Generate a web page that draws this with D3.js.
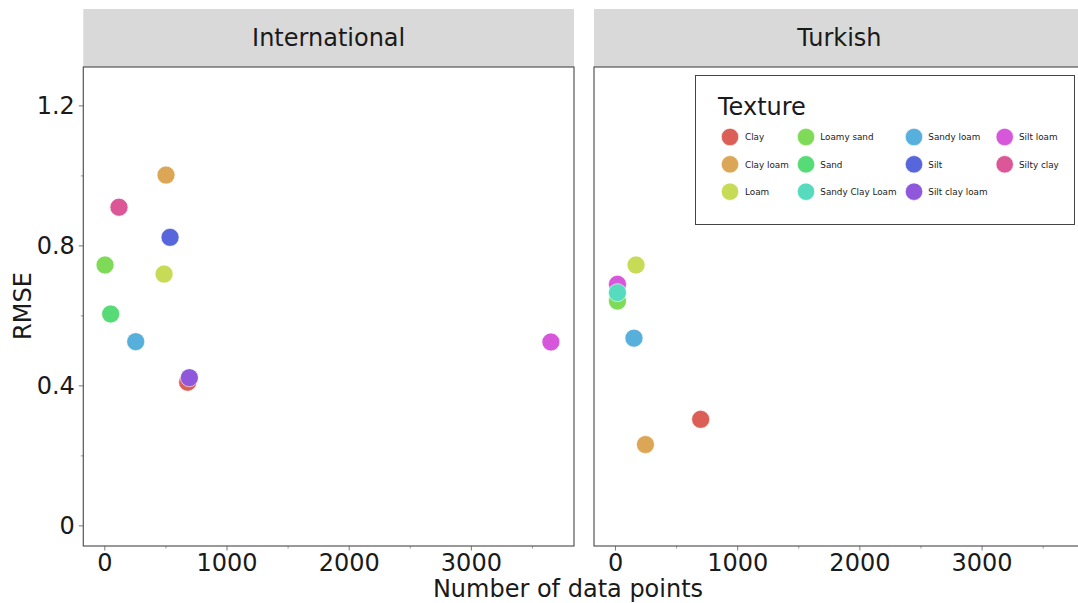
<!DOCTYPE html>
<html>
<head>
<meta charset="utf-8">
<script src="https://cdn.jsdelivr.net/npm/d3@7"></script>
<style>
  html, body { margin: 0; padding: 0; background: #fff; }
  svg { display: block; font-family: "DejaVu Sans", sans-serif; }
</style>
</head>
<body>
<svg id="chart" width="1078" height="603"></svg>
<script>
// ---- data ----
const textures = ["Clay", "Clay loam", "Loam", "Loamy sand", "Sand", "Sandy Clay Loam",
                  "Sandy loam", "Silt", "Silt clay loam", "Silt loam", "Silty clay"];
const textureColors = ["#db5f57", "#dba757", "#c8db57", "#7fdb57", "#57db77", "#57dbbf",
                       "#57afdb", "#5767db", "#8f57db", "#d757db", "#db5798"];

const panels = ["International", "Turkish"];

const intlTexture = ["Clay", "Clay loam", "Loam", "Loamy sand", "Sand", "Sandy loam",
                     "Silt", "Silt clay loam", "Silt loam", "Silty clay"];
const intlPoints  = [682, 505, 489, 6, 52, 257, 538, 696, 3655, 120];
const intlRMSE    = [0.409, 1.001, 0.718, 0.744, 0.604, 0.525, 0.823, 0.422, 0.524, 0.909];

const turkTexture = ["Clay", "Clay loam", "Loam", "Loamy sand", "Silt loam", "Sandy Clay Loam", "Sandy loam"];
const turkPoints  = [701, 249, 172, 20, 20, 20, 155];
const turkRMSE    = [0.303, 0.231, 0.744, 0.641, 0.689, 0.665, 0.535];

const xTicks = [0, 1000, 2000, 3000];
const xMinorTicks = [500, 1500, 2500, 3500];
const yTicks = [0, 0.4, 0.8, 1.2];
const yTickLabels = ["0", "0.4", "0.8", "1.2"];
const yMinorTicks = [0.2, 0.6, 1.0];

const xLabel = "Number of data points";
const yLabel = "RMSE";
const legendTitle = "Texture";

// ---- layout ----
const svg = d3.select("#chart");
const color = d3.scaleOrdinal().domain(textures).range(textureColors);

const panelTop = 67, panelBottom = 546, stripTop = 9;
const panelX = [[83.3, 574], [594, 1084.7]];
const y = d3.scaleLinear().domain([-0.0589, 1.3097]).range([panelBottom, panelTop]);

const panelData = [
  intlTexture.map((t, i) => ({ t, x: intlPoints[i], y: intlRMSE[i] })),
  turkTexture.map((t, i) => ({ t, x: turkPoints[i], y: turkRMSE[i] }))
];

const textColor = "#1a1a1a";
const tickColor = "#777";
const bigFont = 24;

panels.forEach((name, p) => {
  const [x0, x1] = panelX[p];
  const x = d3.scaleLinear().domain([-172, 3844]).range([x0, x1]);
  const g = svg.append("g");

  // strip
  g.append("rect").attr("x", x0).attr("y", stripTop).attr("width", x1 - x0)
    .attr("height", panelTop - stripTop).attr("fill", "#d9d9d9");
  g.append("text").attr("x", (x0 + x1) / 2).attr("y", 46).attr("text-anchor", "middle")
    .attr("font-size", bigFont).attr("fill", textColor).text(name);

  // panel background
  g.append("rect").attr("x", x0).attr("y", panelTop).attr("width", x1 - x0)
    .attr("height", panelBottom - panelTop).attr("fill", "#fff");

  // x axis
  const xa = g.append("g").attr("transform", `translate(0,${panelBottom})`)
    .call(d3.axisBottom(x).tickValues(xTicks).tickSize(4.5).tickPadding(3).tickFormat(d3.format("d")));
  xa.select(".domain").remove();
  xa.selectAll("line").attr("stroke", tickColor).attr("stroke-width", 1);
  xa.selectAll("text").attr("font-size", bigFont).attr("fill", textColor).attr("font-family", "DejaVu Sans");
  const xm = g.append("g").attr("transform", `translate(0,${panelBottom})`)
    .call(d3.axisBottom(x).tickValues(xMinorTicks.filter(v => x(v) < 1078)).tickSize(2.5).tickFormat(""));
  xm.select(".domain").remove();
  xm.selectAll("line").attr("stroke", "#999");

  if (p === 0) {
    const ya = g.append("g").attr("transform", `translate(${x0},0)`)
      .call(d3.axisLeft(y).tickValues(yTicks).tickSize(4.5).tickPadding(4)
        .tickFormat((d, i) => yTickLabels[i]));
    ya.select(".domain").remove();
    ya.selectAll("line").attr("stroke", tickColor);
    ya.selectAll("text").attr("font-size", bigFont).attr("fill", textColor).attr("font-family", "DejaVu Sans");
    const ym = g.append("g").attr("transform", `translate(${x0},0)`)
      .call(d3.axisLeft(y).tickValues(yMinorTicks).tickSize(2.5).tickFormat(""));
    ym.select(".domain").remove();
    ym.selectAll("line").attr("stroke", "#999");
  }

  // points
  g.selectAll("circle.pt").data(panelData[p]).join("circle").attr("class", "pt")
    .attr("cx", d => x(d.x)).attr("cy", d => y(d.y)).attr("r", 9)
    .attr("fill", d => color(d.t)).attr("stroke", "#fff").attr("stroke-width", 0.6);

  // panel border
  g.append("rect").attr("x", x0).attr("y", panelTop).attr("width", x1 - x0)
    .attr("height", panelBottom - panelTop).attr("fill", "none")
    .attr("stroke", "#555").attr("stroke-width", 1.2);
});

// axis labels
svg.append("text").attr("x", 568).attr("y", 597).attr("text-anchor", "middle")
  .attr("font-size", bigFont).attr("fill", textColor).text(xLabel);
svg.append("text").attr("transform", "translate(31,306) rotate(-90)").attr("text-anchor", "middle")
  .attr("font-size", bigFont).attr("fill", textColor).text(yLabel);

// legend
const lg = svg.append("g");
lg.append("rect").attr("x", 695.5).attr("y", 75.5).attr("width", 379).attr("height", 149)
  .attr("fill", "#fff").attr("stroke", "#444").attr("stroke-width", 1);
lg.append("text").attr("x", 718).attr("y", 115).attr("font-size", bigFont).attr("fill", textColor).text(legendTitle);
const colCircleX = [730, 806, 914, 1004.7];
const colTextX = [745, 820.3, 928.3, 1019];
const rowY = [137, 164.3, 191.7];
textures.forEach((t, i) => {
  const c = Math.floor(i / 3), r = i % 3;
  lg.append("circle").attr("cx", colCircleX[c]).attr("cy", rowY[r]).attr("r", 8.7)
    .attr("fill", color(t)).attr("stroke", "#fff").attr("stroke-width", 0.6);
  lg.append("text").attr("x", colTextX[c]).attr("y", rowY[r] + 3.2).attr("font-size", 8.8)
    .attr("fill", textColor).text(t);
});
</script>
</body>
</html>
